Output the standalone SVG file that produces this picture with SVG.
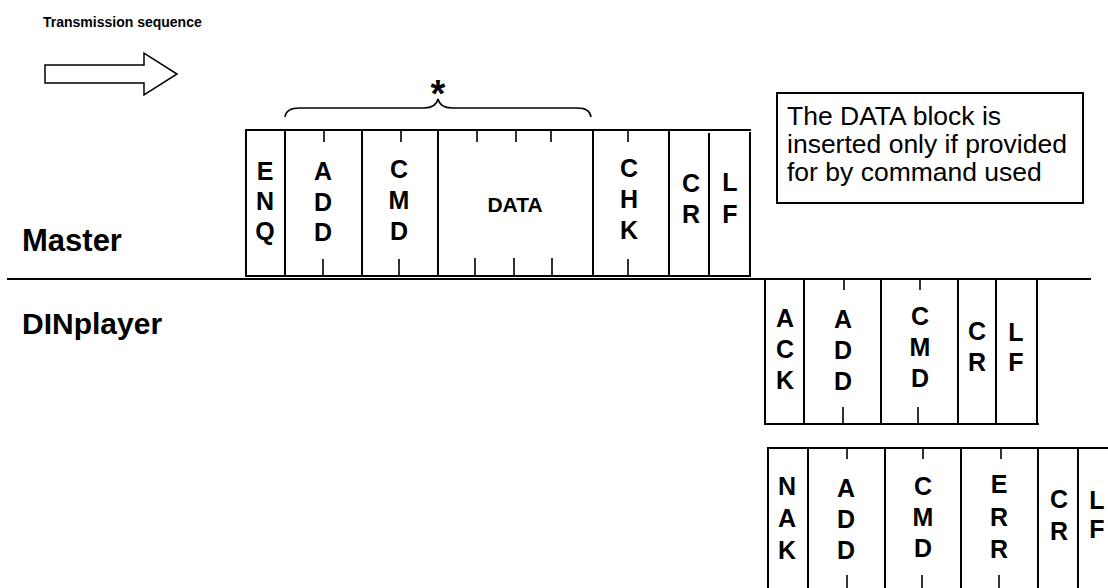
<svg xmlns="http://www.w3.org/2000/svg" width="1108" height="588" viewBox="0 0 1108 588">
<style>
.ln{stroke:#000;stroke-width:2;fill:none}
.tk{stroke:#000;stroke-width:1.6;fill:none}
.lt{font-family:"Liberation Sans",Arial,sans-serif;font-weight:bold;font-size:25px;fill:#000;text-anchor:middle}
.lbl{font-family:"Liberation Sans",Arial,sans-serif;font-weight:bold;fill:#000}
.note{font-family:"Liberation Sans",Arial,sans-serif;font-size:26.5px;fill:#000}
</style>
<rect width="1108" height="588" fill="#fff"/>
<g id="title">
<text class="lbl" x="43" y="27" font-size="14">Transmission sequence</text>
<polygon points="45,65 144,65 144,53 177,74 144,95 144,83 45,83" fill="#fff" stroke="#000" stroke-width="1.5"/>
</g>
<g id="labels">
<text class="lbl" x="22" y="251" font-size="31">Master</text>
<text class="lbl" x="22" y="334" font-size="30">DINplayer</text>
</g>
<g id="connectors">
<line class="ln" x1="7" y1="279" x2="1091" y2="279"/>
<path d="M285,117 Q286,108 300,108 L424,108 Q436,108 438,99 Q440,108 452,108 L577,108 Q590,108 591,117" stroke="#000" stroke-width="1.6" fill="none"/>
<text class="lbl" x="438" y="107" font-size="38" text-anchor="middle">*</text>
</g>
<g id="note">
<rect x="777" y="93" width="306" height="110" fill="#fff" stroke="#000" stroke-width="2"/>
<text class="note" x="787" y="125">The DATA block is</text>
<text class="note" x="787" y="153">inserted only if provided</text>
<text class="note" x="787" y="181">for by command used</text>
</g>
<g id="master-frame">
<line class="ln" x1="245" y1="130" x2="751" y2="130"/>
<line class="ln" x1="245" y1="276" x2="751" y2="276"/>
<line class="ln" x1="246" y1="130" x2="246" y2="276"/>
<line class="ln" x1="285" y1="130" x2="285" y2="276"/>
<line class="ln" x1="362" y1="130" x2="362" y2="276"/>
<line class="ln" x1="438" y1="130" x2="438" y2="276"/>
<line class="ln" x1="593" y1="130" x2="593" y2="276"/>
<line class="ln" x1="669" y1="130" x2="669" y2="276"/>
<line class="ln" x1="709" y1="133" x2="709" y2="276"/>
<line class="ln" x1="750" y1="132" x2="750" y2="276"/>
<path class="tk" d="M324,130V142M323,259V276M401,130V142M399,259V276M477,130V142M475,258V276M516,130V142M514,258V276M551,130V142M552,258V276M628,130V142M628,259V276"/>
<text class="lt"><tspan x="265" y="180">E</tspan><tspan x="265" y="210">N</tspan><tspan x="265" y="240">Q</tspan></text>
<text class="lt"><tspan x="323" y="180">A</tspan><tspan x="323" y="211">D</tspan><tspan x="323" y="241">D</tspan></text>
<text class="lt"><tspan x="399" y="178">C</tspan><tspan x="399" y="209">M</tspan><tspan x="399" y="240">D</tspan></text>
<text class="lbl" x="515" y="212" font-size="21" text-anchor="middle">DATA</text>
<text class="lt"><tspan x="629" y="177">C</tspan><tspan x="629" y="208">H</tspan><tspan x="629" y="239">K</tspan></text>
<text class="lt"><tspan x="691" y="192">C</tspan><tspan x="691" y="223">R</tspan></text>
<text class="lt"><tspan x="730" y="191">L</tspan><tspan x="730" y="223">F</tspan></text>
</g>
<g id="ack-frame">
<line class="ln" x1="765" y1="280" x2="765" y2="424"/>
<line class="ln" x1="804" y1="280" x2="804" y2="424"/>
<line class="ln" x1="881" y1="280" x2="881" y2="424"/>
<line class="ln" x1="958" y1="280" x2="958" y2="424"/>
<line class="ln" x1="996" y1="280" x2="996" y2="424"/>
<line class="ln" x1="1037" y1="280" x2="1037" y2="424"/>
<line class="ln" x1="764" y1="424" x2="1039" y2="424"/>
<path class="tk" d="M844,280V290M843,407V424M920,280V290M918,407V424"/>
<text class="lt"><tspan x="785" y="327">A</tspan><tspan x="785" y="358">C</tspan><tspan x="785" y="389">K</tspan></text>
<text class="lt"><tspan x="843" y="328">A</tspan><tspan x="843" y="359">D</tspan><tspan x="843" y="390">D</tspan></text>
<text class="lt"><tspan x="920" y="325">C</tspan><tspan x="920" y="356">M</tspan><tspan x="920" y="387">D</tspan></text>
<text class="lt"><tspan x="977" y="340">C</tspan><tspan x="977" y="371">R</tspan></text>
<text class="lt"><tspan x="1016" y="341">L</tspan><tspan x="1016" y="371">F</tspan></text>
</g>
<g id="nak-frame">
<line class="ln" x1="767" y1="448" x2="1108" y2="448"/>
<line class="ln" x1="768" y1="448" x2="768" y2="588"/>
<line class="ln" x1="808" y1="448" x2="808" y2="588"/>
<line class="ln" x1="885" y1="448" x2="885" y2="588"/>
<line class="ln" x1="961" y1="448" x2="961" y2="588"/>
<line class="ln" x1="1038" y1="448" x2="1038" y2="588"/>
<line class="ln" x1="1078" y1="448" x2="1078" y2="588"/>
<path class="tk" d="M847,448V459M847,575V588M923,448V459M922,575V588M1001,448V459M999,575V588"/>
<text class="lt"><tspan x="787" y="495">N</tspan><tspan x="787" y="527">A</tspan><tspan x="787" y="559">K</tspan></text>
<text class="lt"><tspan x="846" y="497">A</tspan><tspan x="846" y="528">D</tspan><tspan x="846" y="559">D</tspan></text>
<text class="lt"><tspan x="923" y="495">C</tspan><tspan x="923" y="526">M</tspan><tspan x="923" y="557">D</tspan></text>
<text class="lt"><tspan x="999" y="493">E</tspan><tspan x="999" y="526">R</tspan><tspan x="999" y="558">R</tspan></text>
<text class="lt"><tspan x="1059" y="508">C</tspan><tspan x="1059" y="540">R</tspan></text>
<text class="lt"><tspan x="1097" y="509">L</tspan><tspan x="1097" y="538">F</tspan></text>
</g>
</svg>
